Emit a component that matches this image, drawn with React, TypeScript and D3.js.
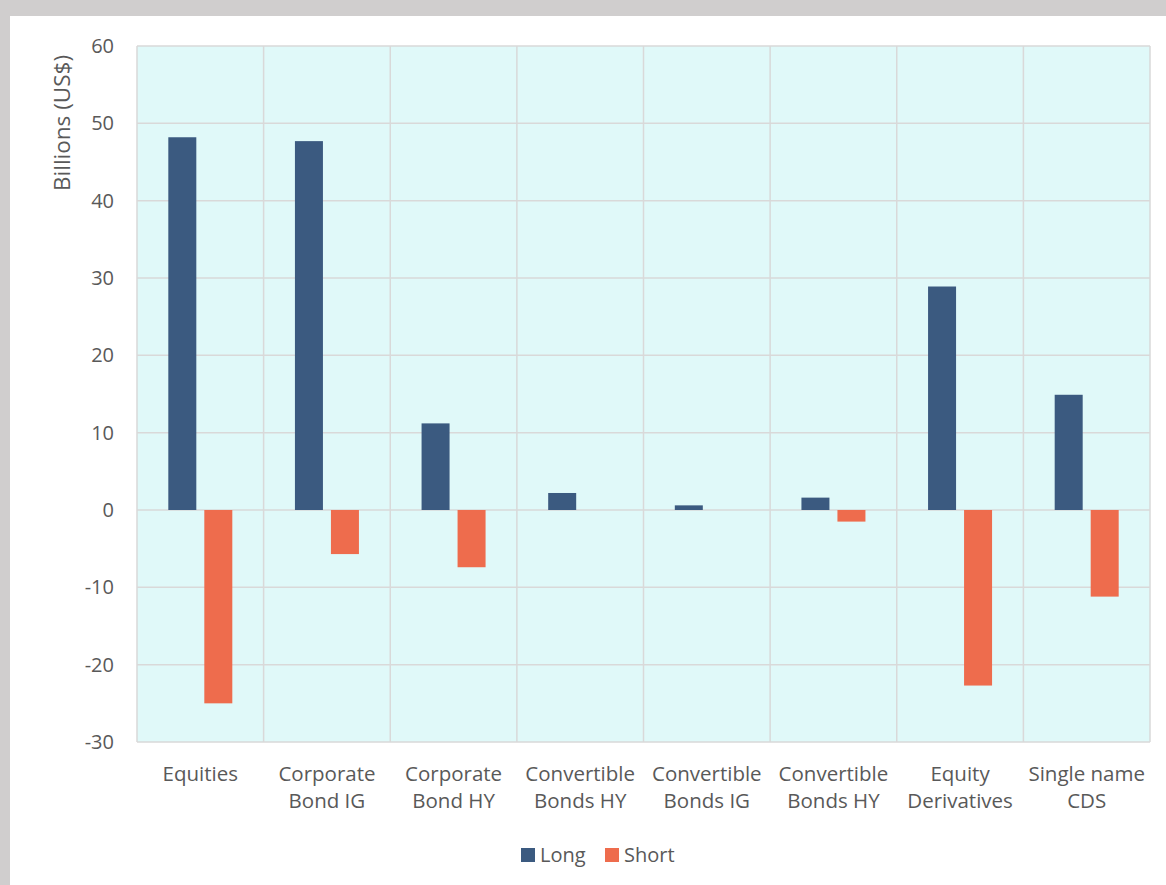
import React from "react";
import * as d3 from "d3";

const categories: string[][] = [
  ["Equities"],
  ["Corporate", "Bond IG"],
  ["Corporate", "Bond HY"],
  ["Convertible", "Bonds HY"],
  ["Convertible", "Bonds IG"],
  ["Convertible", "Bonds HY"],
  ["Equity", "Derivatives"],
  ["Single name", "CDS"],
];
const longValues: number[] = [48.2, 47.7, 11.2, 2.2, 0.6, 1.6, 28.9, 14.9];
const shortValues: number[] = [-25.0, -5.7, -7.4, 0, 0, -1.5, -22.7, -11.2];
const yTicks: number[] = [60, 50, 40, 30, 20, 10, 0, -10, -20, -30];
const seriesNames = ["Long", "Short"];
const colors = ["#3b5a80", "#ee6c4d"];

const W = 1166;
const H = 885;
const left = 137;
const right = 1150;
const top = 46;
const bottom = 742;
const FONT = "'Open Sans', 'Noto Sans', sans-serif";
const TEXT = "#595959";
const GRID = "#d9d9d9";

export default function App() {
  const idx = categories.map((_, i) => String(i));
  const x = d3.scaleBand<string>().domain(idx).range([left, right]).paddingInner(0).paddingOuter(0);
  const y = d3.scaleLinear().domain([-30, 60]).range([bottom, top]);
  const bw = x.bandwidth();
  const barW = 28;
  const gap = 8;
  const inner = d3.scaleBand<string>().domain(["0", "1"]).range([0, barW * 2 + gap]).paddingInner(gap / (barW + gap));
  const off = (bw - (barW * 2 + gap)) / 2;

  return (
    <div style={{ position: "absolute", left: 0, top: 0, width: W, height: H, overflow: "hidden" }}>
      <svg width={W} height={H} style={{ display: "block" }}>
        <rect x={0} y={0} width={W} height={H} fill="#d0cece" />
        <rect x={10} y={16} width={W - 10} height={H - 16} fill="#ffffff" />
        <rect x={left} y={top} width={right - left} height={bottom - top} fill="#e0f9f9" />
        {yTicks.map((t) => (
          <line key={"h" + t} x1={left} x2={right} y1={y(t)} y2={y(t)} stroke={GRID} strokeWidth={1.5} />
        ))}
        {d3.range(categories.length + 1).map((i) => {
          const xx = i < categories.length ? x(String(i))! : right;
          return <line key={"v" + i} x1={xx} x2={xx} y1={top} y2={bottom} stroke={GRID} strokeWidth={1.5} />;
        })}
        {idx.map((k, i) => {
          const vals = [longValues[i], shortValues[i]];
          return vals.map((v, s) => {
            if (v === 0) return null;
            const bx = x(k)! + off + inner(String(s))!;
            const y0 = y(0);
            const y1 = y(v);
            return (
              <rect
                key={k + "-" + s}
                x={bx}
                y={Math.min(y0, y1)}
                width={inner.bandwidth()}
                height={Math.abs(y1 - y0)}
                fill={colors[s]}
              />
            );
          });
        })}
        {yTicks.map((t) => (
          <text key={"t" + t} x={114} y={y(t)} dy="0.35em" textAnchor="end" fontFamily={FONT} fontSize={20} fill={TEXT}>
            {t}
          </text>
        ))}
        <text
          transform={`translate(70,123) rotate(-90)`}
          textAnchor="middle"
          fontFamily={FONT}
          fontSize={22.5}
          fill={TEXT}
        >
          Billions (US$)
        </text>
        {categories.map((lines, i) => (
          <text key={"c" + i} textAnchor="middle" fontFamily={FONT} fontSize={20.5} fill={TEXT}>
            {lines.map((ln, j) => (
              <tspan key={j} x={x(String(i))! + bw / 2} y={781 + j * 27}>
                {ln}
              </tspan>
            ))}
          </text>
        ))}
        <g>
          {seriesNames.map((n, s) => {
            const lx = s === 0 ? 521 : 605;
            return (
              <g key={n}>
                <rect x={lx} y={848} width={14} height={14} fill={colors[s]} />
                <text x={lx + 19} y={862} fontFamily={FONT} fontSize={20} fill={TEXT}>
                  {n}
                </text>
              </g>
            );
          })}
        </g>
      </svg>
    </div>
  );
}
